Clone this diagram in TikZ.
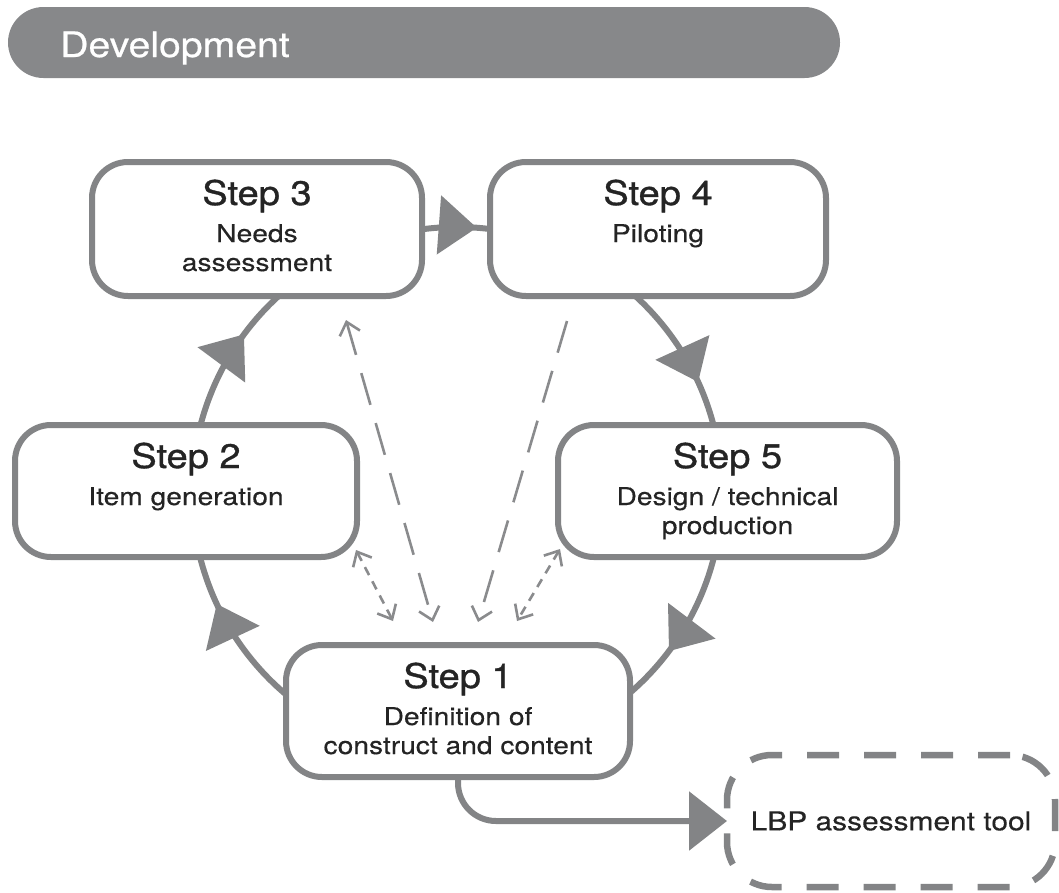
\documentclass[tikz,border=0pt]{standalone}
\usepackage{fontspec}
\setmainfont{TeX Gyre Heros}
\newfontfamily\headfont{TeX Gyre Heros}[FakeStretch=1.12,FakeBold=0.6]
\newfontfamily\titlefont{TeX Gyre Heros}[FakeStretch=1.12,FakeBold=1.0]
\newfontfamily\subfont{TeX Gyre Heros}[FakeStretch=1.15,FakeBold=0.3]
\usetikzlibrary{arrows.meta,decorations.markings}

\definecolor{linegray}{HTML}{838486}
\definecolor{bargray}{HTML}{87888A}
\definecolor{dashgray}{HTML}{8A8B8D}
\definecolor{ink}{HTML}{242424}

\tikzset{
  flowtip/.tip={Triangle[length=38pt,width=58pt]},
  openbarb/.tip={Straight Barb[length=12pt,width=21pt]},
  stepbox/.style={draw=linegray, line width=6pt, fill=white,
    rounded corners=36pt, outer sep=0pt, inner sep=0pt},
  steptitle/.style={anchor=base, inner sep=0pt, text=ink,
    font=\titlefont\fontsize{34}{40}\selectfont},
  stepline/.style={anchor=base, inner sep=0pt, text=ink,
    font=\subfont\fontsize{24.5}{29}\selectfont},
  cycleline/.style={draw=linegray, line width=6pt},
  relation/.style={draw=dashgray, line width=2.6pt, dash pattern=on 33pt off 19pt},
  loose/.style={draw=dashgray, line width=2.6pt, dash pattern=on 9pt off 7pt},
}

\begin{document}
\begin{tikzpicture}[x=1pt, y=-1pt]
\useasboundingbox (0,0) rectangle (1059,892);

% heading bar
\node[fill=bargray, rounded corners=35.5pt, minimum width=832pt,
      minimum height=71pt, inner sep=0pt, outer sep=0pt] (hdr) at (424,42.5) {};
\node[anchor=base west, inner sep=0pt, text=white,
      font=\headfont\fontsize{35}{40}\selectfont] (hdr-t) at (60,57) {Development};

% the development cycle (clockwise), with its direction marks
\coordinate (cyc) at (457,492);
\draw[cycleline, postaction={decorate}, decoration={markings,
    mark=at position 0.1014 with {\arrow[linegray]{flowtip}},
    mark=at position 0.2619 with {\arrow[linegray]{flowtip}},
    mark=at position 0.4319 with {\arrow[linegray]{flowtip}},
    mark=at position 0.6025 with {\arrow[linegray]{flowtip}},
    mark=at position 0.9306 with {\arrow[linegray]{flowtip}}}]
  (cyc) ++(-265,0) arc[start angle=-180, end angle=180, radius=265];

% step boxes
\node[stepbox, minimum width=330pt, minimum height=134pt] (s3) at (257,229) {};
\node[stepbox, minimum width=336pt, minimum height=134pt] (s4) at (658,229) {};
\node[stepbox, minimum width=342pt, minimum height=132pt] (s2) at (186,491) {};
\node[stepbox, minimum width=339pt, minimum height=132pt] (s5) at (727.5,491) {};
\node[stepbox, minimum width=344pt, minimum height=132pt] (s1) at (458,711) {};

% step labels
\node[steptitle] (s3-t) at (257,205) {Step 3};
\node[stepline]  (s3-a) at (257,242) {Needs};
\node[stepline]  (s3-b) at (257,271) {assessment};

\node[steptitle] (s4-t) at (658,205) {Step 4};
\node[stepline]  (s4-a) at (658,242) {Piloting};

\node[steptitle] (s2-t) at (186,468) {Step 2};
\node[stepline]  (s2-a) at (186,505) {Item generation};

\node[steptitle] (s5-t) at (727.5,468) {Step 5};
\node[stepline]  (s5-a) at (727.5,505) {Design / technical};
\node[stepline]  (s5-b) at (727.5,534) {production};

\node[steptitle] (s1-t) at (458,688) {Step 1};
\node[stepline]  (s1-a) at (458,725) {Definition of};
\node[stepline]  (s1-b) at (458,754) {construct and content};

% outcome
\node[draw=linegray, line width=6.5pt, dash pattern=on 32pt off 25pt,
      rounded corners=45pt, minimum width=328pt, minimum height=132pt,
      inner sep=0pt, outer sep=0pt, text=ink,
      font=\subfont\fontsize{26}{30}\selectfont] (lbp) at (891,821) {LBP assessment tool};

\draw[cycleline, rounded corners=38pt, -{flowtip}] (s1.south) |- (lbp.west);

% feedback links towards step 1
\coordinate (a1) at (346,320);
\coordinate (a2) at (433,622);
\coordinate (b1) at (356,550);
\coordinate (b2) at (393,621);
\coordinate (c1) at (567,321);
\coordinate (c2) at (478,622);
\coordinate (d1) at (560,549);
\coordinate (d2) at (517,621);

\draw[relation, {openbarb}-{openbarb}] (a1) -- (a2);
\draw[relation, -{openbarb}] (c1) -- (c2);
\draw[loose, {openbarb}-{openbarb}] (b1) -- (b2);
\draw[loose, {openbarb}-{openbarb}] (d1) -- (d2);
\end{tikzpicture}
\end{document}
